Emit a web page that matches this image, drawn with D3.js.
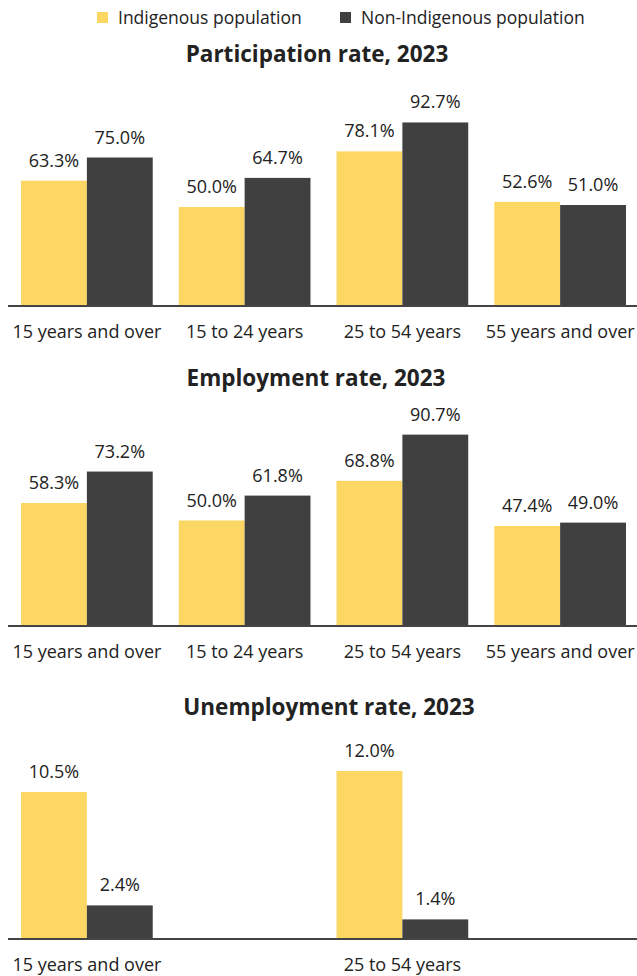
<!DOCTYPE html>
<meta charset="utf-8">
<style>
  body { margin: 0; background: #fff; }
  text { font-family: "Open Sans", "Noto Sans", sans-serif; fill: #222; }
</style>
<body>
<svg width="637" height="976"></svg>
<script src="https://cdn.jsdelivr.net/npm/d3@7"></script>
<script>
  // data
  var series = ['Indigenous population', 'Non-Indigenous population']
  var colors = ['#fdd763', '#404040']
  var ageGroups = ['15 years and over', '15 to 24 years', '25 to 54 years', '55 years and over']

  var participationIndig = [63.3, 50.0, 78.1, 52.6]
  var participationNon = [75.0, 64.7, 92.7, 51.0]

  var employmentIndig = [58.3, 50.0, 68.8, 47.4]
  var employmentNon = [73.2, 61.8, 90.7, 49.0]

  // unemployment only reported for two groups
  var unemploymentIndig = [10.5, null, 12.0, null]
  var unemploymentNon = [2.4, null, 1.4, null]

  var svg = d3.select('svg')
  var width = 637
  var font = '"Open Sans", "Noto Sans", sans-serif'

  // legend
  var legend = svg.append('g').attr('class', 'legend')
  var legendX = [97, 340]
  series.forEach(function(s, i) {
    legend.append('rect')
      .attr('x', legendX[i]).attr('y', 12)
      .attr('width', 11).attr('height', 11)
      .attr('fill', colors[i])
    legend.append('text')
      .attr('x', legendX[i] + 21).attr('y', 24)
      .attr('font-size', 17.5)
      .text(s)
  })

  function drawChart(opts) {
    var g = svg.append('g')

    g.append('text')
      .attr('x', opts.titleX).attr('y', opts.titleY)
      .attr('text-anchor', 'middle')
      .attr('font-size', 22.5)
      .attr('font-weight', 'bold')
      .attr('fill', '#111')
      .text(opts.title)

    var x0 = d3.scaleBand()
      .domain(ageGroups)
      .range([8, 639])
      .paddingInner(0.165)
      .paddingOuter(0.0825)

    var x1 = d3.scaleBand()
      .domain([0, 1])
      .range([0, x0.bandwidth()])

    var y = d3.scaleLinear()
      .domain([0, opts.max])
      .range([opts.base, opts.top])

    var rows = ageGroups.map(function(a, i) {
      return { group: a, values: [opts.a[i], opts.b[i]] }
    })

    var groups = g.selectAll('g.grp')
      .data(rows)
      .enter().append('g')
      .attr('class', 'grp')
      .attr('transform', function(d) { return 'translate(' + x0(d.group) + ',0)' })

    var bars = groups.selectAll('g.bar')
      .data(function(d) {
        return d.values.map(function(v, k) { return { k: k, v: v } })
          .filter(function(e) { return e.v != null })
      })
      .enter().append('g')
      .attr('class', 'bar')

    bars.append('rect')
      .attr('x', function(d) { return x1(d.k) })
      .attr('y', function(d) { return y(d.v) })
      .attr('width', x1.bandwidth())
      .attr('height', function(d) { return opts.base - y(d.v) })
      .attr('fill', function(d) { return colors[d.k] })

    bars.append('text')
      .attr('x', function(d) { return x1(d.k) + x1.bandwidth() / 2 })
      .attr('y', function(d) { return y(d.v) - 14 })
      .attr('text-anchor', 'middle')
      .attr('font-size', 18)
      .text(function(d) { return d3.format('.1f')(d.v) + '%' })

    var axis = g.append('g')
      .attr('transform', 'translate(0,' + opts.base + ')')
      .call(d3.axisBottom(x0)
        .tickSize(0)
        .tickPadding(19)
        .tickFormat(function(d, i) { return opts.a[i] == null ? '' : d }))

    axis.select('.domain')
      .attr('d', 'M8,0H' + width)
      .attr('stroke', '#444')
      .attr('stroke-width', 2)
    axis.selectAll('.tick text')
      .attr('font-size', 18)
      .attr('font-family', font)
      .attr('fill', '#222')
  }

  drawChart({ title: 'Participation rate, 2023', titleX: 317, titleY: 62,
    a: participationIndig, b: participationNon, max: 100, base: 306, top: 108 })

  drawChart({ title: 'Employment rate, 2023', titleX: 316, titleY: 386,
    a: employmentIndig, b: employmentNon, max: 100, base: 626, top: 415 })

  drawChart({ title: 'Unemployment rate, 2023', titleX: 329, titleY: 715,
    a: unemploymentIndig, b: unemploymentNon, max: 15, base: 939, top: 729 })
</script>
</body>
